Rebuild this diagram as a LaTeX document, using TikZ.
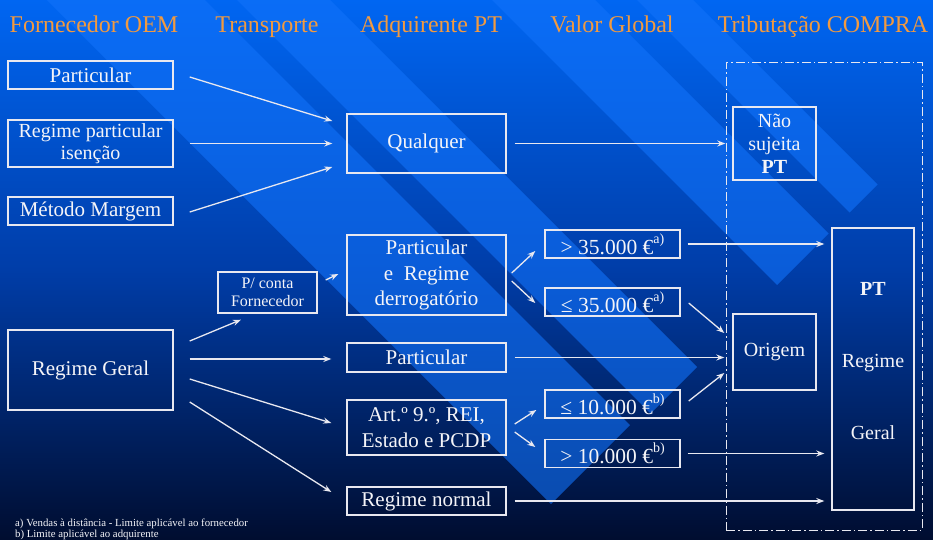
\documentclass[tikz,border=0pt]{standalone}
\usepackage{fontspec}
\setmainfont{Liberation Serif}
\usetikzlibrary{arrows.meta}
\definecolor{bgtop}{HTML}{0066F2}
\definecolor{bgmid}{HTML}{003DA8}
\definecolor{bgbot}{HTML}{000D30}
\definecolor{bandc}{HTML}{1272FA}
\definecolor{hdr}{HTML}{F29A3F}
\definecolor{ln}{HTML}{E8E8F0}
\definecolor{txt}{HTML}{F4F4F8}
\newcommand\fnsup[1]{\raisebox{0.5em}{\fontsize{14}{14}\selectfont #1}}
\begin{document}
\begin{tikzpicture}[x=1pt,y=-1pt,
  box/.style={draw=ln, line width=1.4pt, text=txt, inner sep=0pt, align=center, font=\fontsize{21}{25.5}\selectfont},
  vbox/.style={box, minimum width=135pt, minimum height=28pt, font=\fontsize{21.5}{25}\selectfont},
  arr/.style={draw=ln, line width=1.3pt, -{Stealth[length=8pt,width=6pt]}},
  hd/.style={text=hdr, anchor=base, inner sep=0pt, font=\fontsize{24}{28}\selectfont},
  fn/.style={text=txt, anchor=base west, inner sep=0pt, font=\fontsize{10.8}{11}\selectfont},
  frame/.style={draw=ln, line width=1pt, dash pattern=on 9pt off 3pt on 1.5pt off 3pt, inner sep=0pt}
]
\useasboundingbox (0,0) rectangle (933,539);
\shade[top color=bgtop, bottom color=bgbot, middle color=bgmid] (0,0) rectangle (933,539);
\begin{scope}
\clip (0,0) rectangle (933,539);
\foreach \ua/\ub/\s in {47/205/1055, 237/330/1064, 492/595/1062, 637/693/1062}
  \fill[fill=bandc, opacity=0.6] ({(\s+\ua)/2},{(\s-\ua)/2}) -- ({(\s+\ub)/2},{(\s-\ub)/2}) -- ({(-60+\ub)/2},{(-60-\ub)/2}) -- ({(-60+\ua)/2},{(-60-\ua)/2}) -- cycle;
\end{scope}

% headers
\node[hd] (h1) at (94,32) {Fornecedor OEM};
\node[hd] (h2) at (267,32) {Transporte};
\node[hd] (h3) at (431,32) {Adquirente PT};
\node[hd] (h4) at (612,32) {Valor Global};
\node[hd] (h5) at (823,32) {Tributação COMPRA};

% frame
\node[frame, minimum width=196pt, minimum height=468pt] (fr) at (824,296) {};

% left column
\node[box, minimum width=165pt, minimum height=28pt] (p1) at (90.5,75) {Particular};
\node[box, minimum width=165pt, minimum height=47pt, font=\fontsize{20}{22}\selectfont] (rpi) at (90.5,143.5) {Regime particular\\isenção};
\node[box, minimum width=165pt, minimum height=28pt] (mm) at (90.5,211) {Método Margem};
\node[box, minimum width=165pt, minimum height=80pt] (rg) at (90.5,370) {Regime Geral};

% transport
\node[box, minimum width=99pt, minimum height=41pt, font=\fontsize{16}{18}\selectfont] (pc) at (267.5,292.5) {P/ conta\\Fornecedor};

% middle column
\node[box, minimum width=159pt, minimum height=59pt] (q) at (426.5,143.5) {Qualquer};
\node[box, minimum width=159pt, minimum height=80pt] (prd) at (426.5,275) {Particular\\e \ Regime\\derrogatório};
\node[box, minimum width=159pt, minimum height=29pt] (p2) at (426.5,357.5) {Particular};
\node[box, minimum width=159pt, minimum height=55pt] (art) at (426.5,427.5) {Art.º 9.º, REI,\\Estado e PCDP};
\node[box, minimum width=159pt, minimum height=28pt] (rn) at (426.5,501) {Regime normal};

% values
\node[vbox] (v1) at (612.5,244) {> 35.000 €\fnsup{a)}};
\node[vbox] (v2) at (612.5,302) {≤ 35.000 €\fnsup{a)}};
\node[vbox] (v3) at (612.5,404) {≤ 10.000 €\fnsup{b)}};
\node[vbox] (v4) at (612.5,453.5) {> 10.000 €\fnsup{b)}};

% taxation
\node[box, minimum width=83pt, minimum height=73pt, font=\fontsize{20}{23}\selectfont] (nao) at (774.5,143.5) {Não\\sujeita\\\textbf{PT}};
\node[box, minimum width=83pt, minimum height=76pt, font=\fontsize{20}{23}\selectfont] (org) at (774.5,352) {Origem};
\node[box, minimum width=82pt, minimum height=282pt] (pt) at (873,369) {};
\node[text=txt, inner sep=0pt, align=center, font=\fontsize{20}{72}\selectfont] (ptt) at (873,361) {\textbf{PT}\\Regime\\Geral};

% arrows
\draw[arr] ([xshift=16pt,yshift=-2pt]p1.east) -- ([xshift=-14pt,yshift=22.5pt]q.west);
\draw[arr] ([xshift=16pt]rpi.east) -- ([xshift=-14pt]q.west);
\draw[arr] ([xshift=16pt,yshift=-1pt]mm.east) -- ([xshift=-14pt,yshift=-23.5pt]q.west);
\draw[arr] ([xshift=16pt,yshift=29pt]rg.east) -- ([xshift=-26.5pt,yshift=-6pt]pc.south);
\draw[arr] ([xshift=16pt,yshift=11pt]rg.east) -- ([xshift=-15pt,yshift=-1.5pt]p2.west);
\draw[arr] ([xshift=16pt,yshift=-9pt]rg.east) -- ([xshift=-15pt,yshift=4.5pt]art.west);
\draw[arr] ([xshift=16pt,yshift=-32pt]rg.east) -- ([xshift=-15pt,yshift=9pt]rn.west);
\draw[arr] ([xshift=8pt,yshift=12.5pt]pc.east) -- ([xshift=-8pt,yshift=1pt]prd.west);
\draw[arr] ([xshift=5pt,yshift=2pt]prd.east) -- ([xshift=-9pt,yshift=-7pt]v1.west);
\draw[arr] ([xshift=5pt,yshift=-6pt]prd.east) -- ([xshift=-9pt,yshift=-1pt]v2.west);
\draw[arr] ([xshift=8pt,yshift=3.5pt]art.east) -- ([xshift=-8pt,yshift=-6pt]v3.west);
\draw[arr] ([xshift=8pt,yshift=-4.5pt]art.east) -- ([xshift=-9pt,yshift=6.5pt]v4.west);
\draw[arr] ([xshift=8pt]q.east) -- ([xshift=-7pt]nao.west);
\draw[arr] ([xshift=7pt]v1.east) -- ([xshift=-7pt,yshift=125pt]pt.west);
\draw[arr] ([xshift=8pt,yshift=-1pt]v2.east) -- ([xshift=-8pt,yshift=19pt]org.west);
\draw[arr] ([xshift=8pt]p2.east) -- ([xshift=-8pt,yshift=-5.5pt]org.west);
\draw[arr] ([xshift=8pt,yshift=3pt]v3.east) -- ([xshift=-8pt,yshift=-21pt]org.west);
\draw[arr] ([xshift=7pt]v4.east) -- ([xshift=-7pt,yshift=-84.5pt]pt.west);
\draw[arr] ([xshift=8pt]rn.east) -- ([xshift=-7pt,yshift=-132pt]pt.west);

% footnotes
\node[fn] (fa) at (15,526) {a) Vendas à distância - Limite aplicável ao fornecedor};
\node[fn] (fb) at (15,537) {b) Limite aplicável ao adquirente};
\end{tikzpicture}
\end{document}
